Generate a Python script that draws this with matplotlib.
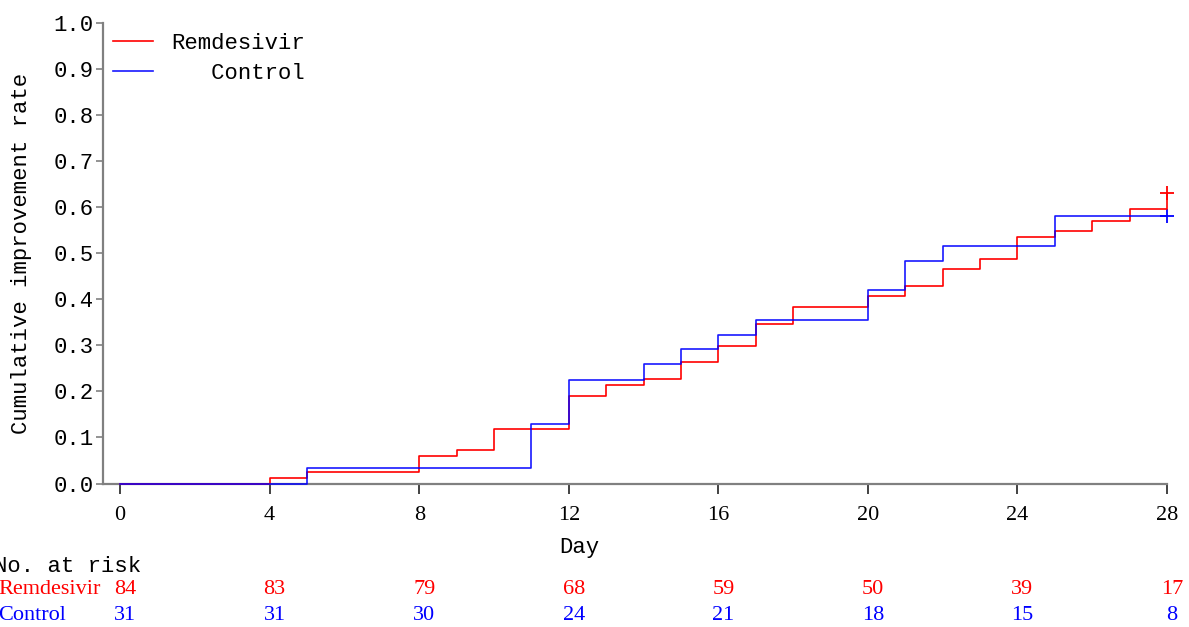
import matplotlib
matplotlib.use("Agg")
import matplotlib.pyplot as plt
from matplotlib.transforms import blended_transform_factory, ScaledTranslation

# Kaplan-Meier style cumulative improvement (step values after each event day)
remdesivir_days = [0, 4, 5, 8, 9, 10, 12, 13, 14, 15, 16, 17, 18, 20, 21, 22, 23, 24, 25, 26, 27, 28]
remdesivir_rate = [0.0, 0.012, 0.025, 0.060, 0.072, 0.119, 0.190, 0.214, 0.227, 0.263, 0.298,
                   0.346, 0.382, 0.406, 0.428, 0.465, 0.487, 0.536, 0.547, 0.570, 0.595, 0.630]

control_days = [0, 5, 11, 12, 14, 15, 16, 17, 20, 21, 22, 25, 28]
control_rate = [0.0, 0.033, 0.130, 0.225, 0.259, 0.292, 0.322, 0.355, 0.419, 0.483, 0.516, 0.580, 0.580]

# Censoring marks at end of follow-up
censor_day = 28
remdesivir_censor = 0.630
control_censor = 0.580

# Number at risk table
risk_days = [0, 4, 8, 12, 16, 20, 24, 28]
remdesivir_at_risk = [84, 83, 79, 68, 59, 50, 39, 17]
control_at_risk = [31, 31, 30, 24, 21, 18, 15, 8]

x_ticks = [0, 4, 8, 12, 16, 20, 24, 28]
y_ticks = [0.0, 0.1, 0.2, 0.3, 0.4, 0.5, 0.6, 0.7, 0.8, 0.9, 1.0]

groups = ["Remdesivir", "Control"]
colors = ["#ff0000", "#0000ff"]

MONO = "Liberation Mono"
SERIF = "Liberation Serif"
FS = 16

W, H = 1189, 627
fig = plt.figure(figsize=(W / 100, H / 100), dpi=100)
ax_left, ax_right, ax_top, ax_bottom = 103.3, 1167, 22.7, 483.5
ax = fig.add_axes([ax_left / W, 1 - ax_bottom / H, (ax_right - ax_left) / W, (ax_bottom - ax_top) / H])

ax.step(remdesivir_days, remdesivir_rate, where="post", color=colors[0], lw=1.2,
        zorder=3, clip_on=False)
ax.step(control_days, control_rate, where="post", color=colors[1], lw=1.2,
        zorder=3, clip_on=False, alpha=0.9)
ax.plot([censor_day], [remdesivir_censor], marker="+", color=colors[0], ms=10, mew=1.3,
        ls="none", clip_on=False)
ax.plot([censor_day], [control_censor], marker="+", color=colors[1], ms=10, mew=1.3,
        ls="none", clip_on=False)

ax.set_xlim(-0.45, 28)
ax.set_ylim(0, 1.0)
ax.set_xticks(x_ticks)
ax.set_xticklabels([str(t) for t in x_ticks], fontfamily=SERIF, fontsize=FS)
ax.set_yticks(y_ticks)
ax.set_yticklabels([f"{t:.1f}" for t in y_ticks], fontfamily=MONO, fontsize=FS)

for side in ("top", "right"):
    ax.spines[side].set_visible(False)
for side in ("left", "bottom"):
    ax.spines[side].set_color("#808080")
    ax.spines[side].set_linewidth(1.6)

ax.tick_params(axis="y", direction="out", length=5, width=1.2, color="#808080", pad=2)
ax.tick_params(axis="x", direction="out", length=7, width=1.2, color="#222222", pad=9)

ax.set_ylabel("Cumulative improvement rate", fontfamily=MONO, fontsize=FS)
ax.yaxis.set_label_coords((32 - ax_left) / (ax_right - ax_left), 0.5)

# Legend with right-aligned names (monospace padding)
width = max(len(g) for g in groups)
leg = ax.legend([ln for ln in ax.lines[:2]], [g.rjust(width) for g in groups],
                loc="upper left", bbox_to_anchor=(0.0, 1.0), frameon=False,
                prop={"family": MONO, "size": FS}, handlelength=1.8,
                handletextpad=0.8, borderaxespad=0.0, borderpad=0.45, labelspacing=0.4)

# Axis title and number-at-risk table
fig.text(579 / W, 1 - 548 / H, "Day", fontfamily=MONO, fontsize=FS, ha="center", va="center")
fig.text(-6 / W, 1 - 566 / H, "No. at risk", fontfamily=MONO, fontsize=FS, ha="left", va="center")

row_y = [1 - 590 / H, 1 - 615 / H]
counts = [remdesivir_at_risk, control_at_risk]
trans = blended_transform_factory(ax.transData, fig.transFigure) + ScaledTranslation(5 / 100, 0, fig.dpi_scale_trans)
for g, c, y, row in zip(groups, colors, row_y, counts):
    fig.text(-2 / W, y, g, color=c, fontfamily=SERIF, fontsize=FS, ha="left", va="center")
    for d, n in zip(risk_days, row):
        ax.text(d, y, str(n), color=c, fontfamily=SERIF, fontsize=FS, ha="center", va="center",
                transform=trans, clip_on=False)

fig.savefig("out.png", dpi=100)
